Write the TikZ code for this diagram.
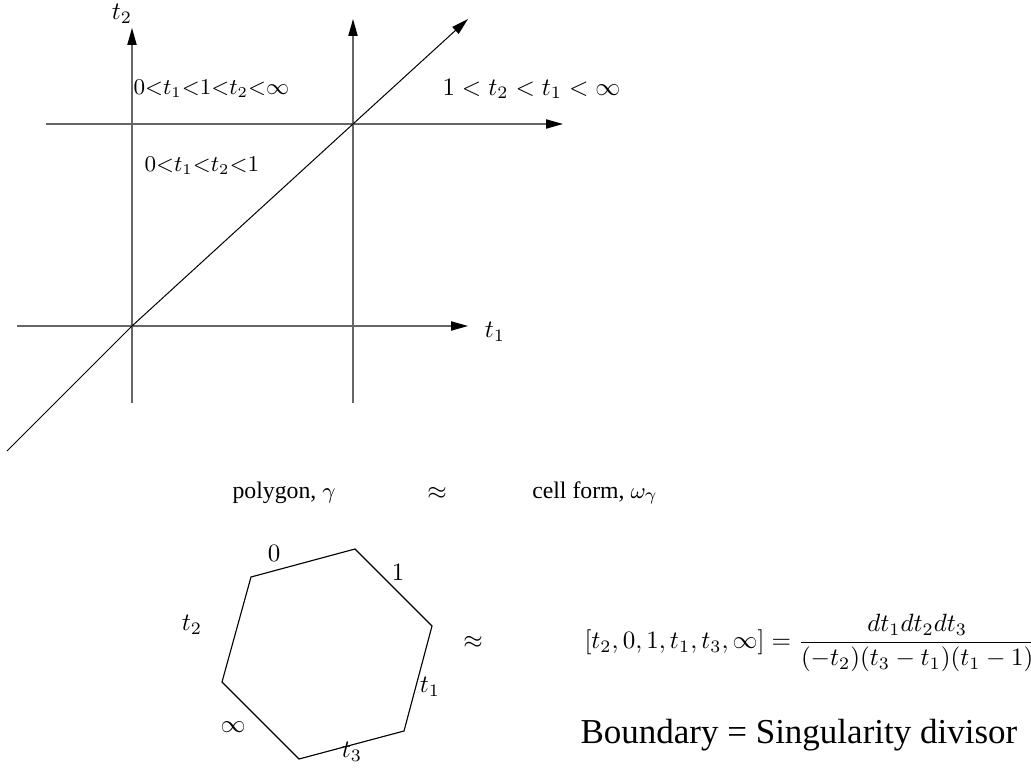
\documentclass[tikz,border=0pt]{standalone}
\usepackage{amsmath}
\usepackage{fontspec}
\newfontfamily\tnr{Liberation Serif}
\usetikzlibrary{arrows.meta}
\begin{document}
\begin{tikzpicture}[x=0.4pt,y=-0.4pt,
  axis/.style={line width=0.5pt,draw=black!60,-{Triangle[length=6.8pt,width=3.7pt,color=black]}},
  diag/.style={line width=0.4pt,-{Triangle[length=6.8pt,width=3.7pt]}},
  edge/.style={line width=0.45pt},
  lab/.style={inner sep=0pt,font=\fontsize{10}{12}\selectfont},
  region/.style={inner sep=0pt,anchor=west,font=\fontsize{9.1}{11}\selectfont},
  caption/.style={inner sep=0pt,font=\tnr\fontsize{9.5}{11}\selectfont}]
\useasboundingbox (0,0) rectangle (1031,771);
% axes
\coordinate (O) at (132,326);
\coordinate (P) at (353,124);
\coordinate (v1b) at (132,403);
\coordinate (v1t) at (132,28);
\coordinate (v2b) at (353,403);
\coordinate (v2t) at (353,19);
\coordinate (h1l) at (46,124);
\coordinate (h1r) at (563,124);
\coordinate (h2l) at (17,326);
\coordinate (h2r) at (468,326);
\coordinate (dl) at (7,451);
\coordinate (dr) at (468,19);
\draw[axis] (v1b) -- (v1t);
\draw[axis] (v2b) -- (v2t);
\draw[axis] (h1l) -- (h1r);
\draw[axis] (h2l) -- (h2r);
\draw[diag] (dl) -- (O) -- (P) -- (dr);
\node[lab] (t2ax) at (122,14) {$t_2$};
\node[lab] (t1ax) at (495,332) {$t_1$};
\node[region] (r1) at (133,89) {$0{<}t_1{<}1{<}t_2{<}\infty$};
\node[lab,anchor=west] (r2) at (442,89) {$1<t_2<t_1<\infty$};
\node[region] (r3) at (144,166) {$0{<}t_1{<}t_2{<}1$};
% captions
\node[caption] (cap1) at (284,493) {polygon, $\gamma$};
\node[lab] (approx1) at (437,493) {$\approx$};
\node[caption] (cap2) at (595,493) {cell form, $\omega_\gamma$};
% polygon
\coordinate (A) at (251,577);
\coordinate (B) at (355,549);
\coordinate (C) at (432,626);
\coordinate (D) at (404,731);
\coordinate (E) at (299,759);
\coordinate (F) at (222,682);
\draw[edge] (A) -- (B) -- (C) -- (D) -- (E) -- (F) -- cycle;
\node[lab] (l0) at (274,553) {$0$};
\node[lab] (l1) at (398,572) {$1$};
\node[lab] (lt1) at (430,687) {$t_1$};
\node[lab] (lt3) at (352,752) {$t_3$};
\node[lab] (linf) at (233,727) {$\infty$};
\node[lab] (lt2) at (192,625) {$t_2$};
\node[lab] (approx2) at (473,642) {$\approx$};
\node[inner sep=0pt,anchor=west,font=\fontsize{10.1}{12}\selectfont] (form) at (584,643)
  {$[t_2,0,1,t_1,t_3,\infty]=\dfrac{dt_1dt_2dt_3}{(-t_2)(t_3-t_1)(t_1-1)}$};
\node[inner sep=0pt,anchor=west,font=\tnr\fontsize{14}{16}\selectfont] (bd) at (580,735)
  {Boundary = Singularity divisor};
\end{tikzpicture}
\end{document}
